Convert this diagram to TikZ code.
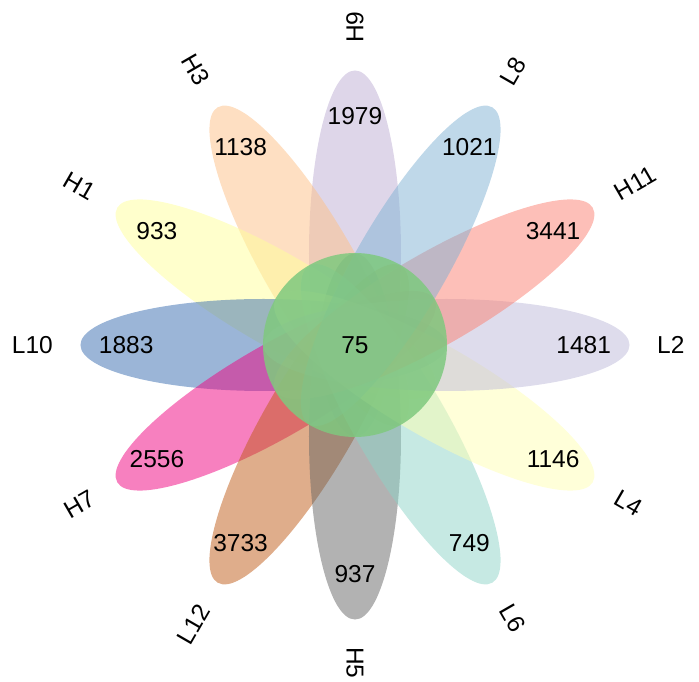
\documentclass[tikz,border=0pt]{standalone}
\usepackage{fontspec}
\setmainfont{Liberation Sans}
\definecolor{cA}{HTML}{BEAED4}
\definecolor{cB}{HTML}{FDC086}
\definecolor{cC}{HTML}{FFFF99}
\definecolor{cD}{HTML}{386CB0}
\definecolor{cE}{HTML}{F0027F}
\definecolor{cF}{HTML}{BF5B17}
\definecolor{cG}{HTML}{666666}
\definecolor{cH}{HTML}{8DD3C7}
\definecolor{cI}{HTML}{FFFFB3}
\definecolor{cJ}{HTML}{BEBADA}
\definecolor{cK}{HTML}{FB8072}
\definecolor{cL}{HTML}{80B1D3}
\definecolor{coreclr}{HTML}{7FC97F}
\tikzset{
  petal/.style={fill=#1, fill opacity=0.5},
  numtext/.style={font=\fontsize{24.5}{28}\selectfont, inner sep=0pt},
  settext/.style={font=\fontsize{24.5}{28}\selectfont, inner sep=0pt}
}
\begin{document}
\begin{tikzpicture}[x=1pt,y=1pt]
\useasboundingbox (-355,-337) rectangle (344,345);
\foreach \nm/\col/\num/\rot/\anc [count=\i from 0] in {
  H9/cA/1979/90/west, H3/cB/1138/-60/east, H1/cC/933/-30/east,
  L10/cD/1883/0/east, H7/cE/2556/30/east, L12/cF/3733/60/east,
  H5/cG/937/-90/west, L6/cH/749/-60/west, L4/cI/1146/-30/west,
  L2/cJ/1481/0/west, H11/cK/3441/30/west, L8/cL/1021/60/west}{
  \pgfmathsetmacro\ang{90+30*\i}
  \fill[petal=\col, rotate=\ang] (91.5,0) ellipse [x radius=183, y radius=46];
  \node[numtext] (num\i) at (\ang:228.75) {\num};
  \node[settext, rotate=\rot, anchor=\anc] (set\i) at (\ang:302) {\nm};
}
\fill[coreclr, fill opacity=0.85] (0,0) circle [radius=92];
\node[numtext] (core) at (0,0) {75};
\end{tikzpicture}
\end{document}
